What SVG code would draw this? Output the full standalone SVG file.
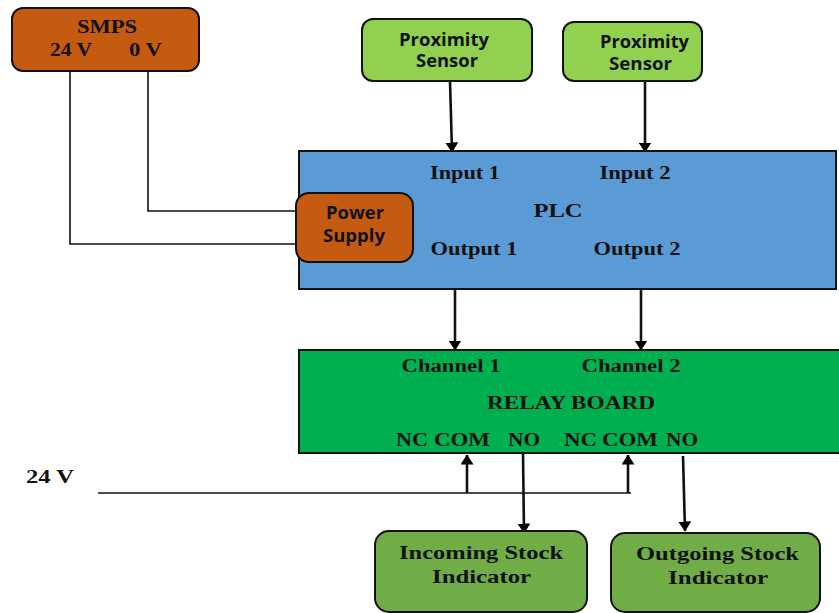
<svg xmlns="http://www.w3.org/2000/svg" width="839" height="613" viewBox="0 0 839 613">
<defs>
<marker id="ah" viewBox="0 0 10 13" refX="9.5" refY="6.5" markerWidth="10" markerHeight="13" orient="auto-start-reverse" markerUnits="userSpaceOnUse">
<path d="M0,0 L10,6.5 L0,13 z" fill="#000"/>
</marker>
<style>
.b{stroke:#111;stroke-width:2}
.s{font-family:"Liberation Serif","Times New Roman",serif;font-weight:bold;font-size:18px;fill:#111;text-anchor:middle}
.sn{font-family:"Open Sans","Liberation Sans",sans-serif;font-weight:bold;font-size:17px;fill:#111;text-anchor:middle}
.w{stroke:#111;stroke-width:1.6;fill:none}
.a{stroke:#111;stroke-width:2.6;fill:none;marker-end:url(#ah)}
</style>
</defs>
<rect width="839" height="613" fill="#fff"/>
<g id="connectors">
<polyline class="w" points="70,71 70,244 297,244"/>
<polyline class="w" points="148,71 148,211 297,211"/>
<line class="a" x1="450" y1="81" x2="452" y2="152"/>
<line class="a" x1="645" y1="81" x2="645" y2="152"/>
<line class="a" x1="455" y1="289" x2="455" y2="350"/>
<line class="a" x1="641" y1="289" x2="641" y2="350"/>
<line class="w" x1="98" y1="493" x2="631" y2="493"/>
<line class="a" x1="467" y1="493" x2="467" y2="455"/>
<line class="a" x1="628" y1="493" x2="628" y2="455"/>
<line class="a" x1="523" y1="453" x2="524" y2="533"/>
<line class="a" x1="683" y1="456" x2="685" y2="531"/>
</g>
<g id="smps">
<rect class="b" x="12" y="8" width="187" height="63" rx="11" fill="#C55A11"/>
<text class="s" x="107" y="33" textLength="60" lengthAdjust="spacingAndGlyphs">SMPS</text>
<text class="s" x="71" y="56" textLength="42" lengthAdjust="spacingAndGlyphs">24 V</text>
<text class="s" x="145.5" y="56" textLength="33" lengthAdjust="spacingAndGlyphs">0 V</text>
</g>
<g id="prox1">
<rect class="b" x="362" y="19" width="170" height="62" rx="11" fill="#92D050"/>
<text class="sn" x="444" y="46" textLength="90" lengthAdjust="spacingAndGlyphs">Proximity</text>
<text class="sn" x="447" y="67" textLength="62" lengthAdjust="spacingAndGlyphs">Sensor</text>
</g>
<g id="prox2">
<rect class="b" x="563" y="22" width="139" height="59" rx="11" fill="#92D050"/>
<text class="sn" x="644.5" y="48" textLength="89" lengthAdjust="spacingAndGlyphs">Proximity</text>
<text class="sn" x="640.5" y="70" textLength="63" lengthAdjust="spacingAndGlyphs">Sensor</text>
</g>
<g id="plc">
<rect class="b" x="299" y="151" width="537" height="138" fill="#5B9BD5"/>
<text class="s" x="465" y="179" textLength="70" lengthAdjust="spacingAndGlyphs">Input 1</text>
<text class="s" x="635" y="179" textLength="71" lengthAdjust="spacingAndGlyphs">Input 2</text>
<text class="s" x="558" y="217" textLength="49" lengthAdjust="spacingAndGlyphs">PLC</text>
<text class="s" x="474" y="255" textLength="87" lengthAdjust="spacingAndGlyphs">Output 1</text>
<text class="s" x="637" y="255" textLength="87" lengthAdjust="spacingAndGlyphs">Output 2</text>
</g>
<g id="power-supply">
<rect class="b" x="296" y="193" width="117" height="69" rx="13" fill="#C55A11"/>
<text class="sn" x="355" y="219" textLength="58" lengthAdjust="spacingAndGlyphs">Power</text>
<text class="sn" x="354" y="242" textLength="62" lengthAdjust="spacingAndGlyphs">Supply</text>
</g>
<g id="relay">
<rect class="b" x="299" y="350" width="545" height="103" fill="#00B050"/>
<text class="s" x="451" y="372" textLength="99" lengthAdjust="spacingAndGlyphs">Channel 1</text>
<text class="s" x="631" y="372" textLength="99" lengthAdjust="spacingAndGlyphs">Channel 2</text>
<text class="s" x="571" y="409" textLength="168" lengthAdjust="spacingAndGlyphs">RELAY BOARD</text>
<text class="s" x="412" y="446" textLength="32" lengthAdjust="spacingAndGlyphs">NC</text>
<text class="s" x="462" y="446" textLength="56" lengthAdjust="spacingAndGlyphs">COM</text>
<text class="s" x="524" y="446" textLength="32" lengthAdjust="spacingAndGlyphs">NO</text>
<text class="s" x="580.5" y="446" textLength="33" lengthAdjust="spacingAndGlyphs">NC</text>
<text class="s" x="630" y="446" textLength="56" lengthAdjust="spacingAndGlyphs">COM</text>
<text class="s" x="682" y="446" textLength="32" lengthAdjust="spacingAndGlyphs">NO</text>
</g>
<g id="label-24v">
<text class="s" x="50" y="483" textLength="48" lengthAdjust="spacingAndGlyphs">24 V</text>
</g>
<g id="incoming">
<rect class="b" x="375" y="531" width="212" height="81" rx="14" fill="#70AD47"/>
<text class="s" x="481" y="559" textLength="164" lengthAdjust="spacingAndGlyphs">Incoming Stock</text>
<text class="s" x="481.5" y="583" textLength="99" lengthAdjust="spacingAndGlyphs">Indicator</text>
</g>
<g id="outgoing">
<rect class="b" x="611" y="533" width="209" height="79" rx="14" fill="#70AD47"/>
<text class="s" x="717.5" y="560" textLength="163" lengthAdjust="spacingAndGlyphs">Outgoing Stock</text>
<text class="s" x="718" y="584" textLength="100" lengthAdjust="spacingAndGlyphs">Indicator</text>
</g>
</svg>
